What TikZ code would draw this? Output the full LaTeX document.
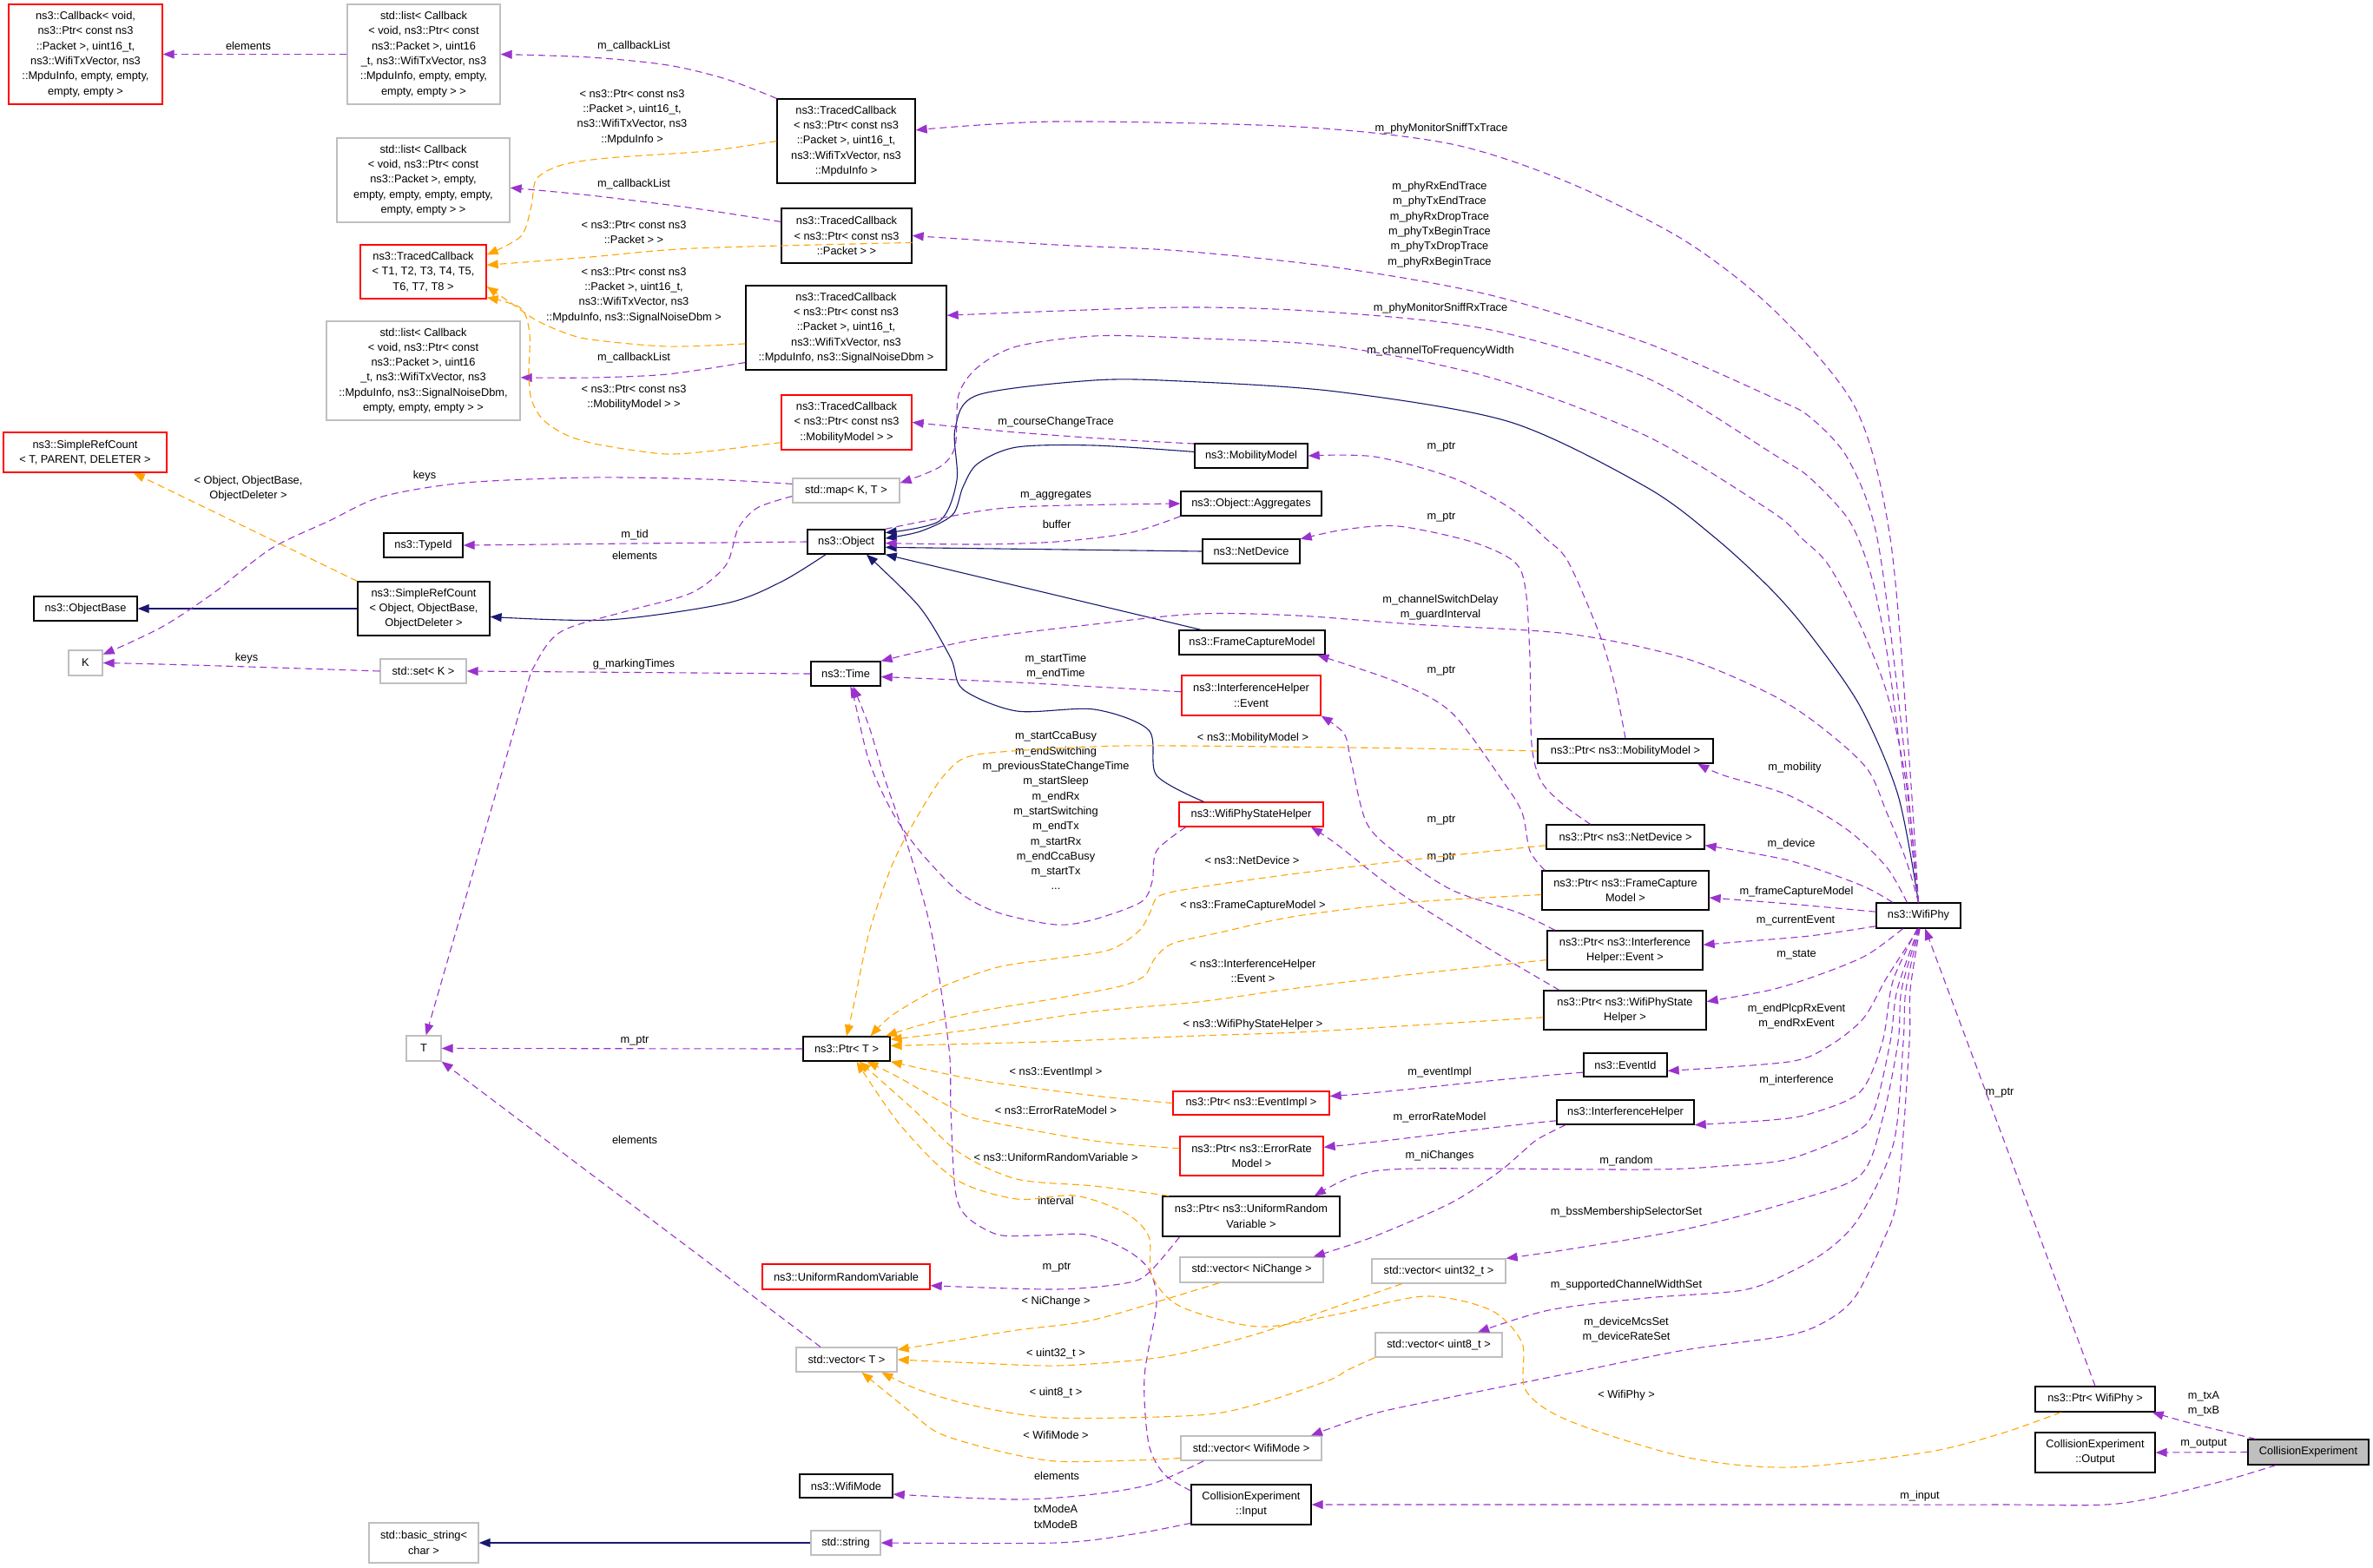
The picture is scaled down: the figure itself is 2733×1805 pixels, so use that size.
\documentclass[tikz,border=0pt]{standalone}
\usepackage{fontspec}
\setmainfont{Liberation Sans}
\usetikzlibrary{arrows.meta}
\definecolor{purp}{HTML}{9A32CD}
\definecolor{orng}{HTML}{FFA500}
\definecolor{navyc}{HTML}{191970}
\definecolor{greyc}{HTML}{BFBFBF}
\definecolor{redc}{HTML}{FF0000}
\newcommand\dgf{\fontsize{12.8}{17.3}\selectfont}
\begin{document}
\begin{tikzpicture}[x=1pt,y=-1pt,
  nb/.style={draw=black, line width=1.3pt, fill=white, inner sep=0pt, align=center, font=\dgf},
  gb/.style={nb, draw=greyc},
  rb/.style={nb, draw=redc},
  lb/.style={inner sep=0pt, align=center, font=\dgf},
  pe/.style={draw=purp, line width=1.1pt, dash pattern=on 8pt off 5pt, -{Triangle[length=13pt,width=10pt]}},
  oe/.style={draw=orng, line width=1.1pt, dash pattern=on 8pt off 5pt, -{Triangle[length=13pt,width=10pt]}},
  ne/.style={draw=navyc, line width=1.1pt, -{Triangle[length=13pt,width=10pt]}},
  sm/.style={smooth, tension=0.5}]
\fill[white] (0,0) rectangle (2733,1805);
\useasboundingbox (0,0) rectangle (2733,1805);

% ---------------- nodes ----------------
\node[rb, minimum width=177pt, minimum height=115pt] (cb) at (98.5,62.5) {ns3::Callback< void,\\ns3::Ptr< const ns3\\::Packet >, uint16\_t,\\ns3::WifiTxVector, ns3\\::MpduInfo, empty, empty,\\empty, empty >};
\node[gb, minimum width=176pt, minimum height=115pt] (l1) at (488,62.5) {std::list< Callback\\< void, ns3::Ptr< const\\ns3::Packet >, uint16\\\_t, ns3::WifiTxVector, ns3\\::MpduInfo, empty, empty,\\empty, empty > >};
\node[gb, minimum width=199pt, minimum height=97pt] (l2) at (487.5,207.5) {std::list< Callback\\< void, ns3::Ptr< const\\ns3::Packet >, empty,\\empty, empty, empty, empty,\\empty, empty > >};
\node[rb, minimum width=145pt, minimum height=62pt] (tcg) at (487.5,313) {ns3::TracedCallback\\< T1, T2, T3, T4, T5,\\T6, T7, T8 >};
\node[gb, minimum width=223pt, minimum height=114pt] (l3) at (487.5,427) {std::list< Callback\\< void, ns3::Ptr< const\\ns3::Packet >, uint16\\\_t, ns3::WifiTxVector, ns3\\::MpduInfo, ns3::SignalNoiseDbm,\\empty, empty, empty > >};
\node[rb, minimum width=188pt, minimum height=46pt] (srct) at (98,521) {ns3::SimpleRefCount\\< T, PARENT, DELETER >};
\node[nb, minimum width=159pt, minimum height=97pt] (tca) at (974.5,162.5) {ns3::TracedCallback\\< ns3::Ptr< const ns3\\::Packet >, uint16\_t,\\ns3::WifiTxVector, ns3\\::MpduInfo >};
\node[nb, minimum width=150pt, minimum height=63pt] (tcb) at (975,271.5) {ns3::TracedCallback\\< ns3::Ptr< const ns3\\::Packet > >};
\node[nb, minimum width=231pt, minimum height=97pt] (tcc) at (974.5,377.5) {ns3::TracedCallback\\< ns3::Ptr< const ns3\\::Packet >, uint16\_t,\\ns3::WifiTxVector, ns3\\::MpduInfo, ns3::SignalNoiseDbm >};
\node[rb, minimum width=150pt, minimum height=63pt] (tcd) at (975,486.5) {ns3::TracedCallback\\< ns3::Ptr< const ns3\\::MobilityModel > >};
\node[gb, minimum width=123pt, minimum height=28pt] (map) at (974.5,565) {std::map< K, T >};
\node[nb, minimum width=89pt, minimum height=28pt] (obj) at (974.5,624) {ns3::Object};
\node[nb, minimum width=130pt, minimum height=28pt] (mm) at (1441,525) {ns3::MobilityModel};
\node[nb, minimum width=162pt, minimum height=28pt] (agg) at (1441,580) {ns3::Object::Aggregates};
\node[nb, minimum width=91pt, minimum height=28pt] (typeid) at (487.5,628) {ns3::TypeId};
\node[nb, minimum width=152pt, minimum height=62pt] (srco) at (488,701) {ns3::SimpleRefCount\\< Object, ObjectBase,\\ObjectDeleter >};
\node[nb, minimum width=119pt, minimum height=28pt] (ob) at (98.5,701) {ns3::ObjectBase};
\node[gb, minimum width=39pt, minimum height=29pt] (K) at (98.5,763.5) {K};
\node[gb, minimum width=99pt, minimum height=28pt] (set) at (487.5,773) {std::set< K >};
\node[nb, minimum width=112pt, minimum height=28pt] (nd) at (1441,635) {ns3::NetDevice};
\node[nb, minimum width=80pt, minimum height=28pt] (time) at (974,776) {ns3::Time};
\node[nb, minimum width=168pt, minimum height=28pt] (fcm) at (1442,740) {ns3::FrameCaptureModel};
\node[rb, minimum width=160pt, minimum height=46pt] (ihe) at (1441,801) {ns3::InterferenceHelper\\::Event};
\node[rb, minimum width=166pt, minimum height=28pt] (wpsh) at (1441,938) {ns3::WifiPhyStateHelper};
\node[nb, minimum width=202pt, minimum height=28pt] (pmm) at (1872,865) {ns3::Ptr< ns3::MobilityModel >};
\node[nb, minimum width=182pt, minimum height=28pt] (pnd) at (1872,964) {ns3::Ptr< ns3::NetDevice >};
\node[nb, minimum width=192pt, minimum height=45pt] (pfcm) at (1872,1025.5) {ns3::Ptr< ns3::FrameCapture\\Model >};
\node[nb, minimum width=179pt, minimum height=45pt] (pihe) at (1871.5,1094.5) {ns3::Ptr< ns3::Interference\\Helper::Event >};
\node[nb, minimum width=187pt, minimum height=45pt] (pwpsh) at (1871.5,1163.5) {ns3::Ptr< ns3::WifiPhyState\\Helper >};
\node[nb, minimum width=97pt, minimum height=29pt] (wifiphy) at (2209.5,1054.5) {ns3::WifiPhy};
\node[nb, minimum width=100pt, minimum height=28pt] (ptrT) at (975,1208) {ns3::Ptr< T >};
\node[gb, minimum width=40pt, minimum height=29pt] (T) at (488,1207.5) {T};
\node[nb, minimum width=96pt, minimum height=27pt] (eventid) at (1872,1226.5) {ns3::EventId};
\node[rb, minimum width=180pt, minimum height=27pt] (pei) at (1441,1270.5) {ns3::Ptr< ns3::EventImpl >};
\node[nb, minimum width=158pt, minimum height=28pt] (ih) at (1872,1281) {ns3::InterferenceHelper};
\node[rb, minimum width=165pt, minimum height=45pt] (perm) at (1441.5,1331.5) {ns3::Ptr< ns3::ErrorRate\\Model >};
\node[nb, minimum width=204pt, minimum height=46pt] (purv) at (1441,1401) {ns3::Ptr< ns3::UniformRandom\\Variable >};
\node[rb, minimum width=193pt, minimum height=29pt] (urv) at (974.5,1470.5) {ns3::UniformRandomVariable};
\node[gb, minimum width=165pt, minimum height=29pt] (vnic) at (1441.5,1462.5) {std::vector< NiChange >};
\node[gb, minimum width=154pt, minimum height=28pt] (vu32) at (1657,1464) {std::vector< uint32\_t >};
\node[gb, minimum width=146pt, minimum height=28pt] (vu8) at (1657,1549) {std::vector< uint8\_t >};
\node[gb, minimum width=116pt, minimum height=28pt] (vT) at (975,1566) {std::vector< T >};
\node[gb, minimum width=162pt, minimum height=28pt] (vwm) at (1441,1668) {std::vector< WifiMode >};
\node[nb, minimum width=107pt, minimum height=27pt] (wm) at (974.5,1711.5) {ns3::WifiMode};
\node[gb, minimum width=80pt, minimum height=28pt] (str) at (974,1777) {std::string};
\node[gb, minimum width=126pt, minimum height=46pt] (bstr) at (488,1777) {std::basic\_string<\\char >};
\node[nb, minimum width=138pt, minimum height=46pt] (cein) at (1441,1733) {CollisionExperiment\\::Input};
\node[nb, minimum width=138pt, minimum height=29pt] (pwp) at (2413,1611.5) {ns3::Ptr< WifiPhy >};
\node[nb, minimum width=138pt, minimum height=46pt] (ceout) at (2413,1673) {CollisionExperiment\\::Output};
\node[nb, fill=greyc, minimum width=139pt, minimum height=29pt] (ce) at (2658.5,1672.5) {CollisionExperiment};

% ---------------- labels ----------------
\node[lb] (L1) at (286,53) {elements};
\node[lb] (L2) at (730,53) {m\_callbackList};
\node[lb] (L3) at (728,135) {< ns3::Ptr< const ns3\\::Packet >, uint16\_t,\\ns3::WifiTxVector, ns3\\::MpduInfo >};
\node[lb] (L4) at (730,212) {m\_callbackList};
\node[lb] (L5) at (730,267.5) {< ns3::Ptr< const ns3\\::Packet > >};
\node[lb] (L6) at (730,340) {< ns3::Ptr< const ns3\\::Packet >, uint16\_t,\\ns3::WifiTxVector, ns3\\::MpduInfo, ns3::SignalNoiseDbm >};
\node[lb] (L7) at (730,412) {m\_callbackList};
\node[lb] (L8) at (730,458) {< ns3::Ptr< const ns3\\::MobilityModel > >};
\node[lb] (L9) at (1216,486) {m\_courseChangeTrace};
\node[lb] (L10) at (286,563) {< Object, ObjectBase,\\ObjectDeleter >};
\node[lb] (L11) at (489,548) {keys};
\node[lb] (L12) at (1216,571) {m\_aggregates};
\node[lb] (L13) at (1217,604) {buffer};
\node[lb] (L14) at (731,616) {m\_tid};
\node[lb] (L15) at (731,640) {elements};
\node[lb] (L16) at (284,758) {keys};
\node[lb] (L17) at (730,765) {g\_markingTimes};
\node[lb] (L18) at (1216,767.5) {m\_startTime\\m\_endTime};
\node[lb] (L19) at (1216,934) {m\_startCcaBusy\\m\_endSwitching\\m\_previousStateChangeTime\\m\_startSleep\\m\_endRx\\m\_startSwitching\\m\_endTx\\m\_startRx\\m\_endCcaBusy\\m\_startTx\\...};
\node[lb] (L20) at (731,1199) {m\_ptr};
\node[lb] (L21) at (731,1313) {elements};
\node[lb] (L22) at (1660,148) {m\_phyMonitorSniffTxTrace};
\node[lb] (L23) at (1658,258.5) {m\_phyRxEndTrace\\m\_phyTxEndTrace\\m\_phyRxDropTrace\\m\_phyTxBeginTrace\\m\_phyTxDropTrace\\m\_phyRxBeginTrace};
\node[lb] (L24) at (1659,355) {m\_phyMonitorSniffRxTrace};
\node[lb] (L25) at (1659,404) {m\_channelToFrequencyWidth};
\node[lb] (L26) at (1660,515) {m\_ptr};
\node[lb] (L27) at (1660,596) {m\_ptr};
\node[lb] (L28) at (1659,699.5) {m\_channelSwitchDelay\\m\_guardInterval};
\node[lb] (L29) at (1660,773) {m\_ptr};
\node[lb] (L30) at (1443,850) {< ns3::MobilityModel >};
\node[lb] (L31) at (1660,945) {m\_ptr};
\node[lb] (L32) at (1442,991) {< ns3::NetDevice >};
\node[lb] (L33) at (1660,988) {m\_ptr};
\node[lb] (L34) at (1443,1043) {< ns3::FrameCaptureModel >};
\node[lb] (L35) at (1443,1118.5) {< ns3::InterferenceHelper\\::Event >};
\node[lb] (L36) at (1443,1180) {< ns3::WifiPhyStateHelper >};
\node[lb] (L37) at (2067,884) {m\_mobility};
\node[lb] (L38) at (2063,972) {m\_device};
\node[lb] (L39) at (2069,1027) {m\_frameCaptureModel};
\node[lb] (L40) at (2068,1060) {m\_currentEvent};
\node[lb] (L41) at (2069,1100) {m\_state};
\node[lb] (L42) at (2069,1170.5) {m\_endPlcpRxEvent\\m\_endRxEvent};
\node[lb] (L43) at (2069,1244) {m\_interference};
\node[lb] (L44) at (2303,1259) {m\_ptr};
\node[lb] (L45) at (1216,1235) {< ns3::EventImpl >};
\node[lb] (L46) at (1658,1235) {m\_eventImpl};
\node[lb] (L47) at (1216,1279) {< ns3::ErrorRateModel >};
\node[lb] (L48) at (1658,1287) {m\_errorRateModel};
\node[lb] (L49) at (1658,1331) {m\_niChanges};
\node[lb] (L50) at (1873,1337) {m\_random};
\node[lb] (L51) at (1216,1333) {< ns3::UniformRandomVariable >};
\node[lb] (L52) at (1216,1383) {interval};
\node[lb] (L53) at (1873,1396) {m\_bssMembershipSelectorSet};
\node[lb] (L54) at (1217,1460) {m\_ptr};
\node[lb] (L55) at (1873,1480) {m\_supportedChannelWidthSet};
\node[lb] (L56) at (1216,1499) {< NiChange >};
\node[lb] (L57) at (1873,1531.5) {m\_deviceMcsSet\\m\_deviceRateSet};
\node[lb] (L58) at (1216,1559) {< uint32\_t >};
\node[lb] (L59) at (1216,1604) {< uint8\_t >};
\node[lb] (L60) at (1873,1607) {< WifiPhy >};
\node[lb] (L61) at (2538,1617) {m\_txA\\m\_txB};
\node[lb] (L62) at (1216,1653) {< WifiMode >};
\node[lb] (L63) at (2538,1663) {m\_output};
\node[lb] (L64) at (1217,1700) {elements};
\node[lb] (L65) at (2211,1723) {m\_input};
\node[lb] (L66) at (1216,1747) {txModeA\\txModeB};

% ---------------- navy (inheritance) ----------------
\draw[ne] (srco.west) -- (ob.east);
\draw[ne] plot[sm] coordinates {(obj.-148) (900,670) (836,695) (700,714) (srco.-7)};
\draw[ne] plot[sm] coordinates {(mm.176) (1260,513) (1171,515) (1126,534) (1109,561) (1097,593) (1060,612) (obj.5)};
\draw[ne] plot[sm] coordinates {(wifiphy.north) (2186,916) (2142,813) (2084,730) (2040,679) (1976,620) (1896,561) (1739,486) (1539,451) (1360,439) (1260,438) (1126,455) (1100,494) (1102,553) (1082,600) (obj.13)};
\draw[ne] (nd.west) -- (obj.-8);
\draw[ne] (fcm.166) -- (obj.south east);
\draw[ne] plot[sm] coordinates {(wpsh.165) (1332,893) (1323,841) (1260,817) (1171,819) (1109,794) (1095,758) (1059,699) (obj.-32)};
\draw[ne] (str.west) -- (bstr.east);

% ---------------- purple (usage) ----------------
\draw[pe] (l1.west) -- (cb.east);
\draw[pe] plot[sm] coordinates {(tca.north west) (836,91) (769,75) (680,66) (l1.east)};
\draw[pe] plot[sm] coordinates {(tcb.168) (800,240) (680,225) (l2.-5)};
\draw[pe] plot[sm] coordinates {(tcc.-161) (769,431) (680,435) (l3.-4)};
\draw[pe] plot[sm] coordinates {(wifiphy.north) (2199,877) (2177,620) (2137,470) (2044,358) (1940,277) (1806,210) (1672,166) (1494,146) (1216,140) (tca.9)};
\draw[pe] plot[sm] coordinates {(wifiphy.north) (2190,837) (2162,620) (2128,528) (2084,480) (2044,459) (1896,395) (1717,340) (1539,308) (1360,289) (1216,282) (tcb.east)};
\draw[pe] plot[sm] coordinates {(wifiphy.north) (2190,877) (2173,750) (2155,663) (2130,600) (2084,550) (2047,526) (1896,435) (1717,380) (1539,360) (1360,354) (tcc.7)};
\draw[pe] plot[sm] coordinates {(wifiphy.north) (2195,900) (2173,798) (2142,719) (2106,651) (2075,620) (2040,589) (1896,502) (1717,435) (1539,399) (1360,389) (1260,387) (1171,399) (1126,423) (1104,455) (1100,514) (1082,538) (map.8)};
\draw[pe] plot[sm] coordinates {(wifiphy.north) (2195,990) (2173,936) (2150,885) (2097,837) (2040,800) (1940,758) (1806,730) (1628,719) (1494,709) (1380,707) (1260,719) (1126,736) (time.north east)};
\draw[pe] plot[sm] coordinates {(mm.168) (1283,506) (1171,498) (tcd.east)};
\draw[pe] plot[sm] coordinates {(map.173) (814,552) (680,550) (536,556) (440,572) (379,600) (312,632) (246,683) (192,719) (150,740) (K.26)};
\draw[pe] plot[sm] coordinates {(map.-174) (872,585) (850,609) (836,651) (796,683) (725,703) (647,727) (616,766) (598,821) (T.80)};
\draw[pe] (obj.west) -- (typeid.east);
\draw[pe] plot[sm] coordinates {(obj.north east) (1082,597) (1171,584) (agg.west)};
\draw[pe] plot[sm] coordinates {(agg.south west) (1300,614) (1216,624) (1126,627) (obj.-2)};
\draw[pe] (set.west) .. controls (350,770) and (200,765) .. (K.east);
\draw[pe] (time.west) -- (set.east);
\draw[pe] plot[sm] coordinates {(ihe.177) (1171,786) (time.-5)};
\draw[pe] plot[sm] coordinates {(wpsh.-169) (1332,980) (1327,1015) (1314,1039) (1260,1059) (1216,1065) (1149,1051) (1104,1027) (1059,980) (1028,936) (1001,877) (984,806) (time.-70)};
\draw[pe] plot[sm] coordinates {(cein.167) (1341,1698) (1323,1663) (1318,1586) (1332,1501) (1323,1462) (1296,1439) (1251,1422) (1193,1423) (1149,1422) (1113,1401) (1100,1370) (1095,1277) (1093,1208) (1073,1075) (1046,976) (1019,897) (1001,837) (time.-60)};
\draw[pe] (ptrT.west) -- (T.east);
\draw[pe] plot[sm] coordinates {(pmm.north) (1860,790) (1842,730) (1806,647) (1780,620) (1739,585) (1672,550) (1583,526) (mm.east)};
\draw[pe] plot[sm] coordinates {(pnd.160) (1802,928) (1775,900) (1764,857) (1762,758) (1757,679) (1744,647) (1695,624) (1610,606) (1548,610) (nd.14)};
\draw[pe] plot[sm] coordinates {(pfcm.166) (1762,980) (1753,936) (1731,900) (1672,821) (1610,786) (fcm.-11)};
\draw[pe] plot[sm] coordinates {(pihe.164) (1748,1051) (1672,1025) (1610,984) (1574,948) (1556,877) (1548,845) (ihe.south east)};
\draw[pe] plot[sm] coordinates {(pwpsh.163) (1717,1094) (1610,1027) (1539,972) (wpsh.-12)};
\draw[pe] plot[sm] coordinates {(wifiphy.131) (2173,999) (2128,956) (2060,916) (1985,893) (pmm.-10)};
\draw[pe] plot[sm] coordinates {(wifiphy.153) (2142,1019) (2060,991) (pnd.-6)};
\draw[pe] plot[sm] coordinates {(wifiphy.175) (2060,1041) (pfcm.-5)};
\draw[pe] plot[sm] coordinates {(wifiphy.-166) (2084,1078) (2000,1085) (pihe.4)};
\draw[pe] plot[sm] coordinates {(wifiphy.-140) (2150,1100) (2097,1122) (2040,1140) (pwpsh.6)};
\draw[pe] plot[sm] coordinates {(wifiphy.south) (2173,1126) (2146,1173) (2106,1205) (2060,1223) (eventid.-8)};
\draw[pe] (eventid.-170) .. controls (1700,1245) and (1600,1258) .. (pei.5);
\draw[pe] plot[sm] coordinates {(wifiphy.-95) (2180,1130) (2168,1200) (2142,1258) (2084,1283) (2040,1290) (ih.south east)};
\draw[pe] plot[sm] coordinates {(wifiphy.-90) (2185,1140) (2177,1200) (2159,1277) (2137,1304) (2060,1335) (1985,1343) (1896,1347) (1628,1346) (1561,1354) (purv.18)};
\draw[pe] plot[sm] coordinates {(wifiphy.-88) (2190,1140) (2186,1200) (2168,1289) (2142,1354) (2060,1385) (1940,1416) (1806,1439) (vu32.north east)};
\draw[pe] plot[sm] coordinates {(wifiphy.-86) (2195,1140) (2192,1200) (2181,1316) (2142,1401) (2106,1439) (2060,1466) (2007,1486) (1896,1495) (1784,1509) (vu8.18)};
\draw[pe] plot[sm] coordinates {(wifiphy.-84) (2200,1140) (2199,1200) (2186,1374) (2168,1431) (2137,1493) (2106,1520) (2060,1538) (1940,1555) (1806,1582) (1672,1609) (1583,1628) (vwm.12)};
\draw[pe] (ih.-173) .. controls (1700,1300) and (1620,1312) .. (perm.7);
\draw[pe] plot[sm] coordinates {(ih.-168) (1771,1312) (1753,1327) (1726,1350) (1672,1385) (1583,1424) (vnic.12)};
\draw[pe] plot[sm] coordinates {(purv.-164) (1323,1466) (1296,1478) (1216,1485) (urv.-6)};
\draw[pe] plot[sm] coordinates {(vwm.-165) (1327,1709) (1260,1721) (1171,1727) (wm.-10)};
\draw[pe] plot[sm] coordinates {(cein.-163) (1305,1767) (1216,1777) (str.east)};
\draw[pe] plot[sm] coordinates {(ce.166) (2526,1640) (pwp.-13)};
\draw[pe] (ce.west) -- (ceout.east);
\draw[pe] plot[sm] coordinates {(ce.-158) (2548,1709) (2438,1732) (2305,1733) (2040,1733) (cein.east)};
\draw[pe] (pwp.north) -- (wifiphy.-63);
\draw[pe] (vT.154) -- (T.south east);

% ---------------- orange (template) ----------------
\draw[oe] plot[sm] coordinates {(tca.west) (814,174) (700,182) (647,190) (618,206) (612,237) (600,272) (tcg.15)};
\draw[oe] plot[sm] coordinates {(tcb.-6) (800,286) (680,296) (tcg.6)};
\draw[oe] plot[sm] coordinates {(tcc.-171) (769,399) (680,391) (647,382) (616,368) (590,350) (tcg.-13)};
\draw[oe] plot[sm] coordinates {(tcd.-163) (814,520) (769,523) (725,518) (680,510) (650,500) (625,483) (612,460) (609,430) (610,385) (600,355) (tcg.-22)};
\draw[oe] (srco.north west) -- (srct.-23);
\draw[oe] plot[sm] coordinates {(pmm.west) (1628,862) (1360,859) (1260,860) (1126,869) (1090,890) (1059,936) (1028,995) (1001,1074) (984,1154) (ptrT.north)};
\draw[oe] plot[sm] coordinates {(pnd.-174) (1628,990) (1494,1006) (1380,1022) (1335,1032) (1325,1050) (1312,1072) (1278,1094) (1216,1104) (1149,1114) (1082,1138) (1028,1169) (ptrT.28)};
\draw[oe] plot[sm] coordinates {(pfcm.-177) (1628,1039) (1494,1055) (1405,1074) (1350,1087) (1330,1104) (1318,1124) (1290,1136) (1216,1150) (1126,1165) (1059,1181) (ptrT.18)};
\draw[oe] plot[sm] coordinates {(pihe.-173) (1628,1122) (1494,1138) (1380,1154) (1260,1165) (1126,1185) (ptrT.12)};
\draw[oe] plot[sm] coordinates {(pwpsh.-175) (1628,1181) (1494,1189) (1380,1193) (1200,1200) (ptrT.4)};
\draw[oe] plot[sm] coordinates {(pei.west) (1260,1262) (1126,1244) (ptrT.south east)};
\draw[oe] plot[sm] coordinates {(perm.174) (1260,1314) (1126,1289) (1091,1273) (1037,1242) (ptrT.-32)};
\draw[oe] plot[sm] coordinates {(purv.166) (1260,1366) (1171,1358) (1104,1327) (1051,1277) (ptrT.-45)};
\draw[oe] plot[sm] coordinates {(pwp.-159) (2305,1651) (2217,1673) (2060,1690) (1940,1678) (1806,1636) (1757,1601) (1753,1547) (1717,1509) (1641,1493) (1539,1514) (1449,1528) (1360,1505) (1327,1470) (1323,1424) (1296,1397) (1238,1377) (1171,1381) (1100,1358) (1037,1296) (ptrT.-52)};
\draw[oe] plot[sm] coordinates {(vnic.-158) (1380,1485) (1260,1520) (1171,1532) (1104,1543) (vT.11)};
\draw[oe] plot[sm] coordinates {(vu32.-161) (1539,1505) (1449,1536) (1360,1559) (1305,1567) (1216,1573) (1126,1570) (vT.east)};
\draw[oe] plot[sm] coordinates {(vu8.south west) (1552,1578) (1530,1590) (1449,1617) (1380,1630) (1216,1633) (1126,1620) (1059,1601) (vT.-20)};
\draw[oe] plot[sm] coordinates {(vwm.-172) (1305,1682) (1216,1683) (1149,1671) (1082,1651) (1046,1624) (vT.-40)};
\end{tikzpicture}
\end{document}
